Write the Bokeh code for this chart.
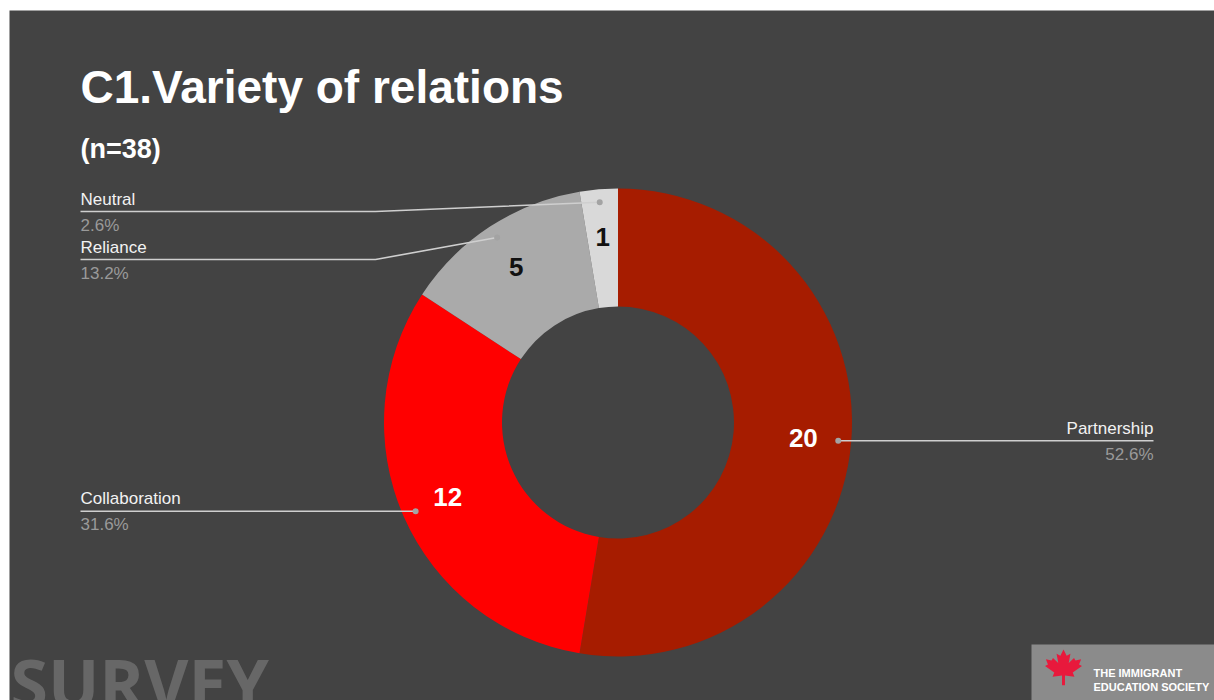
import math
from bokeh.plotting import figure
from bokeh.models import Range1d, ColumnDataSource
from bokeh.core.properties import value
from bokeh.embed import file_html
from bokeh.resources import INLINE

# ---------------- data ----------------
categories = ["Partnership", "Collaboration", "Reliance", "Neutral"]
counts = [20, 12, 5, 1]
slice_colors = ["#a61c00", "#ff0000", "#aaaaaa", "#d9d9d9"]
count_text_colors = ["#ffffff", "#ffffff", "#111111", "#111111"]
title_text = "C1.Variety of relations"
subtitle_text = "(n=38)"
footer_text = "SURVEY"
logo_lines = ["THE IMMIGRANT", "EDUCATION SOCIETY"]

# ---------------- layout ----------------
W, H = 1214, 700
BG = "#434343"
FONT = "Liberation Sans"
K = 0.37  # baseline correction (fraction of font size)


def Y(py):
    return H - py


def BY(py, size):
    """data y for a desired alphabetic baseline at pixel py"""
    return Y(py - K * size)


p = figure(width=W, height=H, x_range=Range1d(9, W), y_range=Range1d(0, H - 10),
           output_backend="svg", toolbar_location=None,
           min_border_left=9, min_border_top=10, min_border_right=0, min_border_bottom=0,
           background_fill_color=BG, border_fill_color="#ffffff", outline_line_color=None)
p.axis.visible = False
p.grid.visible = False

cx, cy = 617.5, Y(422)
r_out, r_in = 234, 116
r_dot, r_val = 221, 186

total = sum(counts)
starts, ends, mids = [], [], []
cum = 0.0
for c in counts:
    f = c / total
    starts.append(math.pi / 2 - 2 * math.pi * (cum + f))
    ends.append(math.pi / 2 - 2 * math.pi * cum)
    mids.append(math.pi / 2 - 2 * math.pi * (cum + f / 2))
    cum += f

src = ColumnDataSource(dict(start=starts, end=ends, color=slice_colors, cat=categories))
p.annular_wedge(x=cx, y=cy, inner_radius=r_in, outer_radius=r_out,
                start_angle="start", end_angle="end", direction="anticlock",
                fill_color="color", line_color=None, source=src)

# value labels inside slices
vx = [cx + r_val * math.cos(m) for m in mids]
vy = [cy + r_val * math.sin(m) for m in mids]
p.text(x=vx, y=vy, text=[str(c) for c in counts], text_color=count_text_colors,
       text_font=value(FONT), text_font_style="bold", text_font_size="26px",
       text_align="center", text_baseline="middle")

# leader lines & outside labels
dx = [cx + r_dot * math.cos(m) for m in mids]
dy = [cy + r_dot * math.sin(m) for m in mids]
label_line_py = {"Neutral": 211, "Reliance": 259}
left_x, elbow_x, right_x = 80, 375, 1153
line_col = "#cfcfcf"
LS = 17

for i, cat in enumerate(categories):
    pct = "%.1f%%" % (counts[i] / total * 100)
    if dx[i] > cx:  # right side
        ly = dy[i]
        p.line([dx[i], right_x], [ly, ly], line_color=line_col, line_width=1.6)
        tx, align = right_x, "right"
    else:
        ly = Y(label_line_py[cat]) if cat in label_line_py else dy[i]
        if abs(ly - dy[i]) > 0.5:
            p.line([left_x, elbow_x, dx[i]], [ly, ly, dy[i]], line_color=line_col, line_width=1.6)
        else:
            p.line([left_x, dx[i]], [ly, ly], line_color=line_col, line_width=1.6)
        tx, align = left_x, "left"
    lpy = H - ly
    p.text(x=[tx], y=[BY(lpy - 6, LS)], text=[cat], text_color="#f2f2f2", text_font=value(FONT),
           text_font_size="%dpx" % LS, text_align=align, text_baseline="alphabetic")
    p.text(x=[tx], y=[BY(lpy + 20, LS)], text=[pct], text_color="#9a9a9a", text_font=value(FONT),
           text_font_size="%dpx" % LS, text_align=align, text_baseline="alphabetic")

p.scatter(x=dx, y=dy, size=6, fill_color="#a3a3a3", line_color=None)

# title & subtitle
p.text(x=[80], y=[BY(104, 46)], text=[title_text], text_color="#ffffff", text_font=value(FONT),
       text_font_style="bold", text_font_size="46px", text_baseline="alphabetic")
p.text(x=[80], y=[BY(158, 27)], text=[subtitle_text], text_color="#ffffff", text_font=value(FONT),
       text_font_style="bold", text_font_size="27px", text_baseline="alphabetic")

# footer word (cut by the bottom edge, as in the original slide)
p.text(x=[10], y=[BY(707, 68)], text=[footer_text], text_color="#676767", text_font=value("Open Sans"),
       text_font_style="bold", text_font_size="68px", text_baseline="alphabetic")

# logo box
p.quad(left=[1031], right=[W], top=[Y(644)], bottom=[0], fill_color="#8b8b8b", line_color=None)
leaf_half = [(0, 1.0), (0.15, 0.70), (0.33, 0.80), (0.25, 0.36), (0.50, 0.60), (0.57, 0.48),
             (0.84, 0.54), (0.74, 0.28), (0.88, 0.22), (0.44, -0.10), (0.52, -0.30),
             (0.07, -0.24), (0.07, -0.70)]
leaf = leaf_half + [(-x, y) for (x, y) in reversed(leaf_half)]
lx0, ly0, ls = 1063, Y(670), 21
p.patch([lx0 + ls * x for x, y in leaf], [ly0 + ls * y for x, y in leaf],
        fill_color="#e8193c", line_color=None)
p.text(x=[1093, 1093], y=[BY(677, 11), BY(691, 11)], text=logo_lines, text_color="#ffffff",
       text_font=value(FONT), text_font_style="bold", text_font_size="11px",
       text_baseline="alphabetic")

open("out.html", "w").write(file_html(p, INLINE))
